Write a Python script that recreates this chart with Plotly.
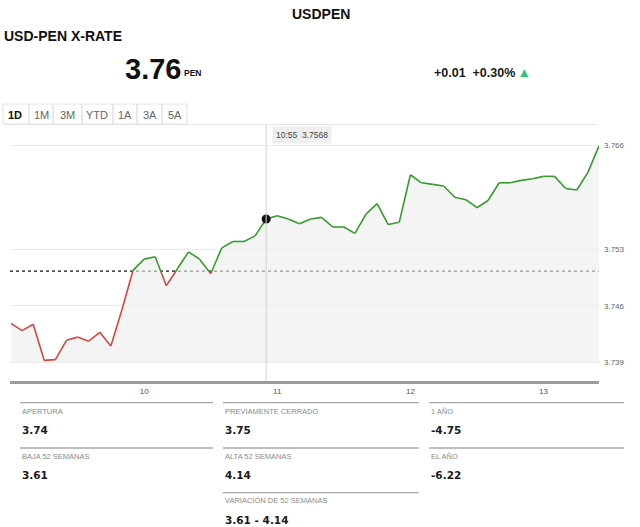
import plotly.graph_objects as go

# ---------------- data ----------------
start_hour = 9.0
step_minutes = 5
rate = [3.7438, 3.7429, 3.7437, 3.7392, 3.7393, 3.7417, 3.7421, 3.7416, 3.7427, 3.7410,
        3.7455, 3.7504, 3.7518, 3.7521, 3.7485, 3.7506, 3.7527, 3.7518, 3.7500, 3.7532,
        3.7540, 3.7540, 3.7547, 3.7568, 3.7572, 3.7568, 3.7562, 3.7568, 3.7570, 3.7558,
        3.7558, 3.7550, 3.7574, 3.7587, 3.7561, 3.7564, 3.7623, 3.7613, 3.7611, 3.7609,
        3.7595, 3.7592, 3.7582, 3.7591, 3.7613, 3.7613, 3.7616, 3.7618, 3.7621, 3.7621,
        3.7606, 3.7604, 3.7626, 3.7659]
prev_close = 3.7503
fill_base = 3.739
hover_index = 23
hover_label = "10:55"

x_tickvals = [10, 11, 12, 13]
x_ticktext = ["10", "11", "12", "13"]
y_tickvals = [3.739, 3.746, 3.753, 3.766]
y_ticktext = ["3.739", "3.746", "3.753", "3.766"]

title = "USDPEN"
subtitle = "USD-PEN X-RATE"
price = "3.76"
currency = "PEN"
change = "+0.01  +0.30%"
buttons = ["1D", "1M", "3M", "YTD", "1A", "3A", "5A"]

stat_labels = ["APERTURA", "BAJA 52 SEMANAS", "PREVIAMENTE CERRADO", "ALTA 52 SEMANAS",
               "VARIACIÓN DE 52 SEMANAS", "1 AÑO", "EL AÑO"]
stat_values = ["3.74", "3.61", "3.75", "4.14", "3.61 - 4.14", "-4.75", "-6.22"]

# ---------------- derived ----------------
x = [start_hour + i * step_minutes / 60 for i in range(len(rate))]

# split the line into red (below prev close) and green (above) pieces
red_x, red_y, green_x, green_y = [], [], [], []
for i in range(len(rate) - 1):
    x0, y0, x1, y1 = x[i], rate[i], x[i + 1], rate[i + 1]
    b0, b1 = y0 < prev_close, y1 < prev_close
    if b0 == b1:
        tx, ty = (red_x, red_y) if b0 else (green_x, green_y)
        tx += [x0, x1, None]
        ty += [y0, y1, None]
    else:
        t = (prev_close - y0) / (y1 - y0)
        xc = x0 + t * (x1 - x0)
        first = (red_x, red_y) if b0 else (green_x, green_y)
        second = (green_x, green_y) if b0 else (red_x, red_y)
        first[0].extend([x0, xc, None]); first[1].extend([y0, prev_close, None])
        second[0].extend([xc, x1, None]); second[1].extend([prev_close, y1, None])

W, H = 640, 527
L, R, T, B = 10, 41, 125, 146
PW, PH = W - L - R, H - T - B


def px(v):
    return (v - L) / PW


def py(v):
    return 1 - (v - T) / PH


fig = go.Figure()

# baseline + fill
fig.add_trace(go.Scatter(x=[x[0], x[-1]], y=[fill_base, fill_base], mode="lines",
                         line=dict(width=0), hoverinfo="skip", showlegend=False))
fig.add_trace(go.Scatter(x=x, y=rate, mode="lines", line=dict(width=0),
                         fill="tonexty", fillcolor="rgba(238,238,238,0.62)",
                         hoverinfo="skip", showlegend=False))
fig.add_trace(go.Scatter(x=red_x, y=red_y, mode="lines",
                         line=dict(color="#cc4a44", width=1.6), showlegend=False))
fig.add_trace(go.Scatter(x=green_x, y=green_y, mode="lines",
                         line=dict(color="#389a30", width=1.6), showlegend=False))
fig.add_trace(go.Scatter(x=[x[hover_index]], y=[rate[hover_index]], mode="markers",
                         marker=dict(color="#111", size=9), showlegend=False))

shapes = []
# previous close dotted line (beneath the semi transparent fill)
shapes.append(dict(type="line", xref="paper", yref="y", x0=0, x1=1,
                   y0=prev_close, y1=prev_close, layer="below",
                   line=dict(color="#111", width=1.3, dash="dot")))
# crosshair
shapes.append(dict(type="line", xref="x", yref="paper", x0=x[hover_index], x1=x[hover_index],
                   y0=0, y1=1.0, line=dict(color="#d4d4d4", width=1)))
# top border line
shapes.append(dict(type="line", xref="paper", yref="paper", x0=px(3), x1=px(597),
                   y0=py(124.5), y1=py(124.5), line=dict(color="#e6e6e6", width=1)))

# buttons
btn_edges = [3, 29, 53, 82, 113, 137, 162, 187]
btn_centers = [14.5, 41, 67, 97, 125, 149.5, 174.5]
for i in range(len(buttons)):
    shapes.append(dict(type="rect", xref="paper", yref="paper",
                       x0=px(btn_edges[i]), x1=px(btn_edges[i + 1]),
                       y0=py(124), y1=py(104),
                       line=dict(color="#e3e3e3", width=1), fillcolor="rgba(0,0,0,0)"))

# stat separators
col_x = [(20, 213), (223, 419), (429, 624)]
sep_lines = [(0, 402.7), (0, 448), (1, 402.7), (1, 448), (1, 492.7), (2, 402.7), (2, 448)]
for c, yy in sep_lines:
    shapes.append(dict(type="line", xref="paper", yref="paper",
                       x0=px(col_x[c][0]), x1=px(col_x[c][1]), y0=py(yy), y1=py(yy),
                       line=dict(color="#a8a8a8", width=1.3)))

ann = []
FONT = "Liberation Sans, Arial, sans-serif"


def text(x0, y0, s, size, color="#111", bold=False, xanchor="left", family=FONT):
    ann.append(dict(x=px(x0), y=py(y0), xref="paper", yref="paper", text=s,
                    showarrow=False, xanchor=xanchor, yanchor="middle",
                    font=dict(size=size, color=color, family=family,
                              weight="bold" if bold else "normal")))


text(320.5, 14, title, 14, bold=True, xanchor="center")
text(2, 36, subtitle, 14, bold=True)
text(123, 69, price, 29, bold=True)
text(182, 73, currency, 8.5, bold=True)
text(432, 73, change, 12.5, color="#1a1a1a", bold=True)
text(518, 72.5, "▲", 11, color="#38c08a", family="DejaVu Sans, sans-serif")

for i, b in enumerate(buttons):
    text(btn_centers[i], 114.5, b, 11, color="#111" if i == 0 else "#666",
         bold=(i == 0), xanchor="center")

# stats blocks: (column, label y, value y)
stat_pos = [(0, 411.5, 429.5), (0, 456, 474.5), (1, 411.5, 429.5), (1, 456, 474.5),
            (1, 500, 519.5), (2, 411.5, 429.5), (2, 456, 474.5)]
for (c, ly, vy), lab, val in zip(stat_pos, stat_labels, stat_values):
    text(col_x[c][0], ly, lab, 7.5, color="#8a8a8a")
    text(col_x[c][0], vy, val, 10.5, color="#1a1a1a", bold=True,
         family="DejaVu Sans, Arial, sans-serif")

# hover tooltip
ann.append(dict(x=x[hover_index], y=py(135), xref="x", yref="paper",
                text=f"{hover_label}  {rate[hover_index]:.4f}", showarrow=False,
                xanchor="left", yanchor="middle", xshift=6,
                bgcolor="#efefef", borderpad=3,
                font=dict(size=8.5, color="#444", family=FONT)))

fig.update_layout(
    width=W, height=H,
    margin=dict(l=L, r=R, t=T, b=B, autoexpand=False),
    paper_bgcolor="white", plot_bgcolor="white",
    showlegend=False,
    shapes=shapes, annotations=ann,
    xaxis=dict(range=[start_hour - 0.0075, x[-1]], tickvals=x_tickvals, ticktext=x_ticktext,
               showgrid=False, zeroline=False, showline=True, linecolor="#9c9c9c",
               linewidth=3, ticks="", tickfont=dict(size=8, color="#555", family=FONT),
               fixedrange=True),
    yaxis=dict(range=[3.73664, 3.76849], side="right", tickvals=y_tickvals,
               ticktext=y_ticktext, showgrid=True, gridcolor="#ececec", gridwidth=1,
               zeroline=False, showline=False, ticks="", ticklabelstandoff=4,
               tickfont=dict(size=8, color="#666", family=FONT), fixedrange=True),
)

fig.write_html("out.html")
